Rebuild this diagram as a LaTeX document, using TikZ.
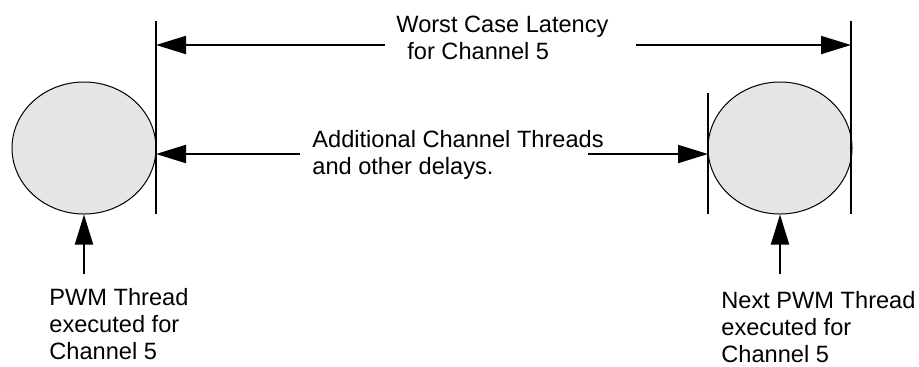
\documentclass[tikz,border=0pt]{standalone}
\usepackage{fontspec}
\setmainfont{Liberation Sans}
\usepackage{tikz}
\usetikzlibrary{positioning,arrows.meta,shapes.geometric}
\definecolor{threadGray}{HTML}{E5E5E5}

\begin{document}
\begin{tikzpicture}[x=0.5pt,y=-0.5pt,
  every node/.style={font=\fontsize{11.8}{13.5}\selectfont,inner sep=0pt},
  thread/.style={ellipse,fill=threadGray,draw=black,line width=0.5pt,minimum width=72pt,minimum height=66pt},
  lbl/.style={anchor=north west,align=left},
  mark line/.style={line width=1pt},
  e/.style={-{Triangle[length=15pt,width=9pt]},line width=1pt},
]
\useasboundingbox (0,0) rectangle (919,366);

% the two PWM threads
\node[thread] (T1) at (84,148)  {};
\node[thread] (T2) at (780,148) {};

% marker lines
\coordinate (L1top) at (156,21);  \coordinate (L1bot) at (156,214);
\coordinate (R1top) at (851,21);  \coordinate (R1bot) at (851,214);
\coordinate (R2top) at (708,93);  \coordinate (R2bot) at (708,214);
\draw[mark line] (L1top) -- (L1bot);
\draw[mark line] (R1top) -- (R1bot);
\draw[mark line] (R2top) -- (R2bot);

% worst case latency
\coordinate (WLa) at (385,45);  \coordinate (WLb) at (636,45);
\draw[e] (WLa) -- (L1top |- WLa);
\draw[e] (WLb) -- (R1top |- WLb);
\node[lbl] (WCL) at (396,16) {Worst Case Latency\\\hspace*{5.5pt}for Channel 5};

% additional delays
\coordinate (ADa) at (300,154); \coordinate (ADb) at (588,154);
\draw[e] (ADa) -- (L1top |- ADa);
\draw[e] (ADb) -- (R2top |- ADb);
\node[lbl] (ADD) at (312,130) {Additional Channel Threads\\and other delays.};

% thread labels
\coordinate (P1) at (84,274);  \coordinate (P2) at (780,274);
\draw[e] (P1) -- (T1.south);
\draw[e] (P2) -- (T2.south);
\node[lbl] (PWM1) at (49,288)  {PWM Thread\\executed for\\Channel 5};
\node[lbl] (PWM2) at (721,291) {Next PWM Thread\\executed for\\Channel 5};
\end{tikzpicture}
\end{document}
